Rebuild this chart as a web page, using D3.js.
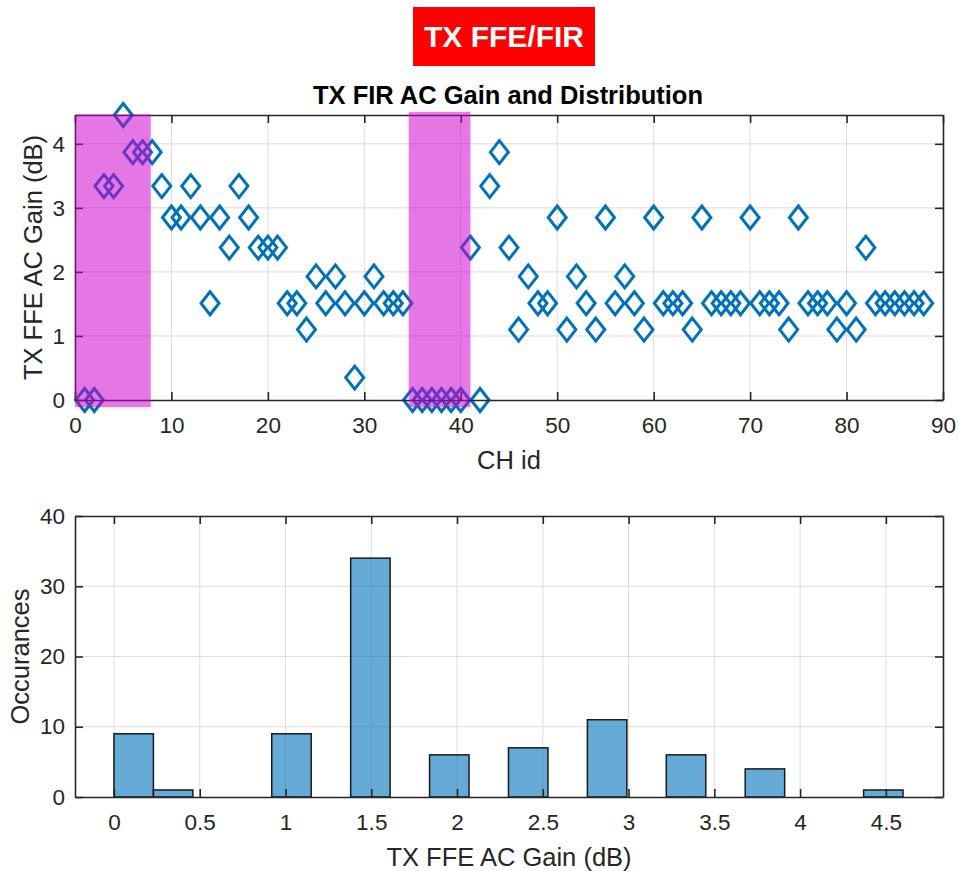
<!DOCTYPE html>
<html>
<head>
<meta charset="utf-8">
<script src="https://cdn.jsdelivr.net/npm/d3@7"></script>
<style>
  body { margin: 0; background: #fff; }
  svg { font-family: "Liberation Sans", Arial, Helvetica, sans-serif; }
  .grid line { stroke: #dcdcdc; stroke-width: 1; }
  .axis path, .axis line { stroke: #262626; }
  .axis text { fill: #262626; font-size: 22.5px; }
</style>
</head>
<body>
<svg width="958" height="871"></svg>
<script>
// gain per channel, channel id = index + 1
var chGain = [
  0, 0, 3.34, 3.34, 4.45, 3.87, 3.87, 3.87, 3.34, 2.85,
  2.85, 3.34, 2.85, 1.51, 2.85, 2.38, 3.34, 2.85, 2.38, 2.38,
  2.38, 1.51, 1.51, 1.10, 1.93, 1.51, 1.93, 1.51, 0.35, 1.51,
  1.93, 1.51, 1.51, 1.51, 0, 0, 0, 0, 0, 0,
  2.38, 0, 3.34, 3.87, 2.38, 1.10, 1.93, 1.51, 1.51, 2.85,
  1.10, 1.93, 1.51, 1.10, 2.85, 1.51, 1.93, 1.51, 1.10, 2.85,
  1.51, 1.51, 1.51, 1.10, 2.85, 1.51, 1.51, 1.51, 1.51, 2.85,
  1.51, 1.51, 1.51, 1.10, 2.85, 1.51, 1.51, 1.51, 1.10, 1.51,
  1.10, 2.38, 1.51, 1.51, 1.51, 1.51, 1.51, 1.51
];

// highlighted channel ranges [x0, x1] in CH id units
var highlightRanges = [[0, 7.85], [34.6, 41.0]];

// axis ticks
var chTicks = [0, 10, 20, 30, 40, 50, 60, 70, 80, 90];
var gainTicks = [0, 1, 2, 3, 4];
var histXTicks = [0, 0.5, 1, 1.5, 2, 2.5, 3, 3.5, 4, 4.5];
var histYTicks = [0, 10, 20, 30, 40];
var binWidth = 0.23;

var svg = d3.select("svg");

// header box
svg.append("rect")
    .attr("x", 413).attr("y", 7)
    .attr("width", 182).attr("height", 59)
    .attr("fill", "#ff0000");
svg.append("text")
    .attr("x", 504).attr("y", 47)
    .attr("text-anchor", "middle")
    .attr("fill", "#fff")
    .attr("font-weight", "bold")
    .attr("font-size", "30px")
    .text("TX FFE/FIR");

/**
 * top plot: gain per channel
 */
var m1 = { left: 75, right: 943, top: 115, bottom: 400 };

var x = d3.scaleLinear().domain([0, 90]).range([m1.left, m1.right]),
    y = d3.scaleLinear().domain([0, 4.45]).range([m1.bottom, m1.top]);

var topPlot = svg.append("g");

// grid
topPlot.append("g").attr("class", "grid")
    .selectAll("line.v").data(chTicks.slice(1, -1)).enter().append("line")
    .attr("x1", function(d) { return x(d); }).attr("x2", function(d) { return x(d); })
    .attr("y1", m1.top).attr("y2", m1.bottom);
topPlot.append("g").attr("class", "grid")
    .selectAll("line.h").data(gainTicks.slice(1)).enter().append("line")
    .attr("y1", function(d) { return y(d); }).attr("y2", function(d) { return y(d); })
    .attr("x1", m1.left).attr("x2", m1.right);

// axes (box style with inward ticks)
function boxAxes(g, xs, ys, xt, yt, xfmt) {
    g.append("g").attr("class", "axis")
        .attr("transform", "translate(0," + ys.range()[0] + ")")
        .call(d3.axisBottom(xs).tickValues(xt).tickSizeInner(-8).tickSizeOuter(0).tickPadding(17.5).tickFormat(xfmt));
    g.append("g").attr("class", "axis")
        .attr("transform", "translate(0," + ys.range()[1] + ")")
        .call(d3.axisTop(xs).tickValues(xt).tickSizeInner(-8).tickSizeOuter(0).tickFormat(""));
    g.append("g").attr("class", "axis")
        .attr("transform", "translate(" + xs.range()[0] + ",0)")
        .call(d3.axisLeft(ys).tickValues(yt).tickSizeInner(-8).tickSizeOuter(0).tickPadding(10).tickFormat(d3.format("d")));
    g.append("g").attr("class", "axis")
        .attr("transform", "translate(" + xs.range()[1] + ",0)")
        .call(d3.axisRight(ys).tickValues(yt).tickSizeInner(-8).tickSizeOuter(0).tickFormat(""));
    g.selectAll(".axis path").attr("stroke-width", 1.6);
    g.selectAll(".axis line").attr("stroke-width", 1.6);
}

// diamonds
var diamond = "M0,-11.5L9,0L0,11.5L-9,0Z";
topPlot.append("g")
    .selectAll("path")
    .data(chGain)
    .enter().append("path")
    .attr("d", diamond)
    .attr("transform", function(d, i) { return "translate(" + x(i + 1) + "," + y(d) + ")"; })
    .attr("fill", "none")
    .attr("stroke", "#0072BD")
    .attr("stroke-width", 3);

boxAxes(topPlot, x, y, chTicks, gainTicks, d3.format("d"));

// highlight bands drawn over everything
var defs = svg.append("defs");
var blur = defs.append("filter").attr("id", "soft")
    .attr("x", "-20%").attr("y", "-5%").attr("width", "140%").attr("height", "110%");
blur.append("feDropShadow").attr("dx", 1).attr("dy", 2).attr("stdDeviation", 2)
    .attr("flood-color", "#000").attr("flood-opacity", 0.12);

topPlot.append("g")
    .selectAll("rect")
    .data(highlightRanges)
    .enter().append("rect")
    .attr("x", function(d) { return x(d[0]); })
    .attr("width", function(d) { return x(d[1]) - x(d[0]); })
    .attr("y", function(d, i) { return i == 0 ? y(4.46) : y(4.5); })
    .attr("height", function(d, i) { return y(-0.11) - (i == 0 ? y(4.46) : y(4.5)); })
    .attr("fill", "#d20ad2")
    .attr("fill-opacity", 0.5)
    .attr("filter", "url(#soft)");

topPlot.append("text")
    .attr("x", 508).attr("y", 103.5)
    .attr("text-anchor", "middle")
    .attr("font-weight", "bold")
    .attr("font-size", "25.5px")
    .text("TX FIR AC Gain and Distribution");

topPlot.append("text")
    .attr("x", 509).attr("y", 469)
    .attr("text-anchor", "middle")
    .attr("fill", "#262626")
    .attr("font-size", "25.5px")
    .text("CH id");

topPlot.append("text")
    .attr("transform", "translate(42," + ((m1.top + m1.bottom) / 2) + ") rotate(-90)")
    .attr("text-anchor", "middle")
    .attr("fill", "#262626")
    .attr("font-size", "25.5px")
    .text("TX FFE AC Gain (dB)");

/**
 * bottom plot: histogram
 */
var m2 = { left: 75, right: 943, top: 516, bottom: 797 };

var x2 = d3.scaleLinear().domain([-0.227, 4.833]).range([m2.left, m2.right]),
    y2 = d3.scaleLinear().domain([0, 40]).range([m2.bottom, m2.top]);

var thresholds = d3.range(1, 20).map(function(k) { return k * binWidth; });
var bins = d3.bin().domain([0, 20 * binWidth]).thresholds(thresholds)(chGain);

var botPlot = svg.append("g");

botPlot.append("g").attr("class", "grid")
    .selectAll("line").data(histXTicks).enter().append("line")
    .attr("x1", function(d) { return x2(d); }).attr("x2", function(d) { return x2(d); })
    .attr("y1", m2.top).attr("y2", m2.bottom);
botPlot.append("g").attr("class", "grid")
    .selectAll("line.h").data(histYTicks.slice(1, -1)).enter().append("line")
    .attr("y1", function(d) { return y2(d); }).attr("y2", function(d) { return y2(d); })
    .attr("x1", m2.left).attr("x2", m2.right);

botPlot.append("g")
    .selectAll("rect")
    .data(bins.filter(function(b) { return b.length > 0; }))
    .enter().append("rect")
    .attr("x", function(b) { return x2(b.x0); })
    .attr("width", function(b) { return x2(b.x1) - x2(b.x0); })
    .attr("y", function(b) { return y2(b.length); })
    .attr("height", function(b) { return y2(0) - y2(b.length); })
    .attr("fill", "#0072BD")
    .attr("fill-opacity", 0.6)
    .attr("stroke", "#1a1a1a")
    .attr("stroke-width", 1.5);

boxAxes(botPlot, x2, y2, histXTicks, histYTicks, function(d) { return d; });

botPlot.append("text")
    .attr("x", 509).attr("y", 866)
    .attr("text-anchor", "middle")
    .attr("fill", "#262626")
    .attr("font-size", "25.5px")
    .text("TX FFE AC Gain (dB)");

botPlot.append("text")
    .attr("transform", "translate(29," + ((m2.top + m2.bottom) / 2) + ") rotate(-90)")
    .attr("text-anchor", "middle")
    .attr("fill", "#262626")
    .attr("font-size", "25.5px")
    .text("Occurances");
</script>
</body>
</html>
